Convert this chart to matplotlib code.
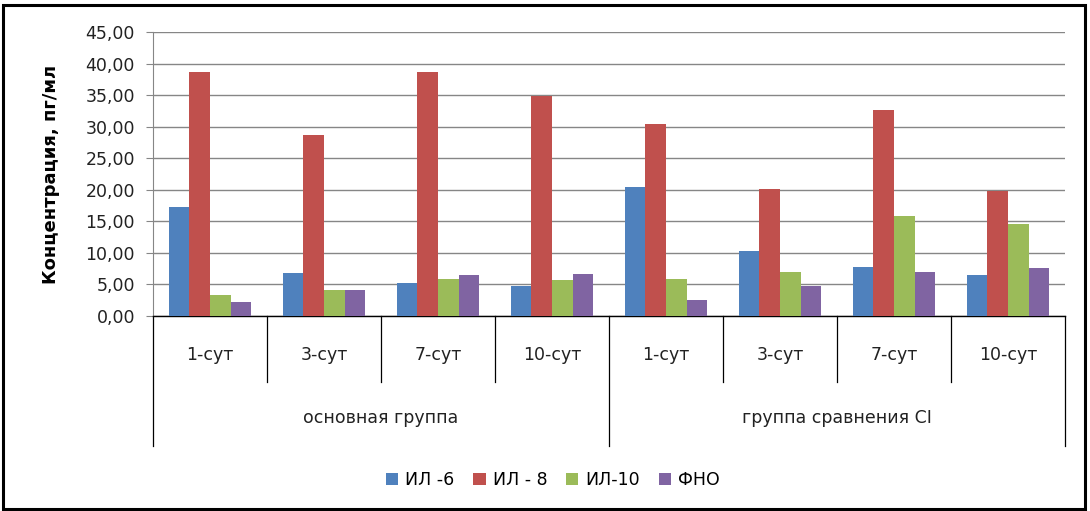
import matplotlib.pyplot as plt
import numpy as np
from matplotlib.patches import Rectangle
from matplotlib.transforms import blended_transform_factory

# data
days = ["1-сут", "3-сут", "7-сут", "10-сут"]
groups = ["основная группа", "группа сравнения CI"]
series_names = ["ИЛ -6", "ИЛ - 8", "ИЛ-10", "ФНО"]
il6 = [17.3, 6.8, 5.2, 4.7, 20.5, 10.3, 7.8, 6.5]
il8 = [38.6, 28.7, 38.6, 34.9, 30.4, 20.1, 32.7, 19.8]
il10 = [3.3, 4.1, 5.9, 5.7, 5.8, 7.0, 15.8, 14.6]
fno = [2.2, 4.1, 6.5, 6.7, 2.5, 4.7, 7.0, 7.6]
y_ticks = [0, 5, 10, 15, 20, 25, 30, 35, 40, 45]
y_tick_labels = ["0,00", "5,00", "10,00", "15,00", "20,00", "25,00",
                 "30,00", "35,00", "40,00", "45,00"]

colors = ["#4F81BD", "#C0504D", "#9BBB59", "#8064A2"]
FONT = "DejaVu Sans"


def main():
    plt.rcParams["font.family"] = FONT
    fig = plt.figure(figsize=(10.9, 5.11), dpi=100)
    ax = fig.add_axes([153 / 1090, 1 - 316 / 511, 912 / 1090, 284 / 511])

    n = len(il6)
    x = np.arange(n, dtype=float)
    width = 0.18
    all_series = [il6, il8, il10, fno]
    for i, (vals, name, c) in enumerate(zip(all_series, series_names, colors)):
        ax.bar(x + (i - 1.5) * width, vals, width=width, color=c,
               label=name, zorder=3)

    ax.set_xlim(-0.5, n - 0.5)
    ax.set_ylim(0, 45)
    ax.set_yticks(y_ticks)
    ax.set_yticklabels(y_tick_labels)
    ax.set_xticks([])
    ax.tick_params(axis="y", labelsize=12.5, length=5, color="#868686",
                   labelcolor="#222222", pad=8)
    ax.grid(axis="y", color="#868686", linewidth=1.0, zorder=0)
    ax.set_axisbelow(True)
    for s in ["top", "right"]:
        ax.spines[s].set_visible(False)
    ax.spines["left"].set_color("#868686")
    ax.spines["bottom"].set_color("black")
    ax.spines["bottom"].set_linewidth(1.0)

    ax.set_ylabel("Концентрация, пг/мл", fontsize=13, fontweight="bold")
    ax.yaxis.set_label_coords(-0.102, 0.5)

    # two-level category axis drawn below the plot area
    tr = blended_transform_factory(ax.transData, ax.transAxes)
    for k in range(n + 1):
        b = k - 0.5
        bottom = -0.458 if k % 4 == 0 else -0.232
        ax.plot([b, b], [0, bottom], color="black", linewidth=0.9,
                transform=tr, clip_on=False)
    for k in range(n):
        ax.text(k, -0.137, days[k % 4], transform=tr, ha="center",
                va="center", fontsize=12.5, color="#222222")
    for g, name in enumerate(groups):
        ax.text(g * 4 + 1.5, -0.359, name, transform=tr, ha="center",
                va="center", fontsize=12.5, color="#222222")

    fig.legend(loc="center", bbox_to_anchor=(553 / 1090, 1 - 480 / 511),
               ncol=4, frameon=False, fontsize=12.5, handlelength=0.7,
               handleheight=0.7, handletextpad=0.4, columnspacing=1.1)

    fig.patches.append(Rectangle((3 / 1090, 2 / 511), 1082 / 1090, 504 / 511,
                                 transform=fig.transFigure, fill=False,
                                 edgecolor="black", linewidth=2.2))

    fig.savefig("out.png", dpi=100)


if __name__ == "__main__":
    main()
